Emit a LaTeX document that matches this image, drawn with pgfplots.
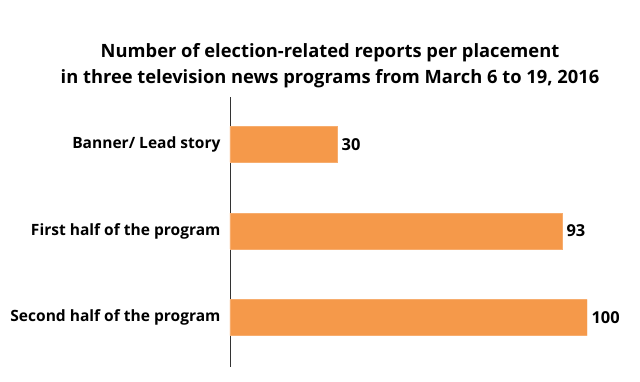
\documentclass[border=0pt]{standalone}
\usepackage{pgfplots}
\pgfplotsset{compat=1.18}
\usepackage{fontspec}
\setmainfont{Open Sans}
\definecolor{barorange}{HTML}{F5994A}
\begin{document}
\begin{tikzpicture}
\path[use as bounding box] (-230bp,-15bp) rectangle (410bp,367bp);
\begin{axis}[
  at={(0,0)}, anchor=south west,
  scale only axis,
  width=357bp, height=270bp,
  xmin=0, xmax=100,
  ymin=-0.549, ymax=2.572,
  y dir=reverse,
  xbar, bar width=36bp,
  axis x line=none,
  axis y line*=left,
  y axis line style={-, line width=0.8pt, black!80},
  ytick={0,1,2},
  yticklabels={Banner/ Lead story, First half of the program, Second half of the program},
  yticklabel style={font=\bfseries\fontsize{15.6}{18}\selectfont, xshift=-6bp},
  major tick length=0pt,
  nodes near coords,
  nodes near coords style={font=\bfseries\fontsize{16.5}{18}\selectfont, anchor=west, xshift=1bp, black},
  point meta=explicit symbolic,
]
\addplot[fill=barorange, draw=barorange!80!white] coordinates {(30,0) [30] (93,1) [93] (100,2) [100]};
\end{axis}
\node[align=center, font=\bfseries\fontsize{18.4}{26}\selectfont] at (100bp,301bp)
  {Number of election-related reports per placement\\in three television news programs from March 6 to 19, 2016};
\end{tikzpicture}
\end{document}
